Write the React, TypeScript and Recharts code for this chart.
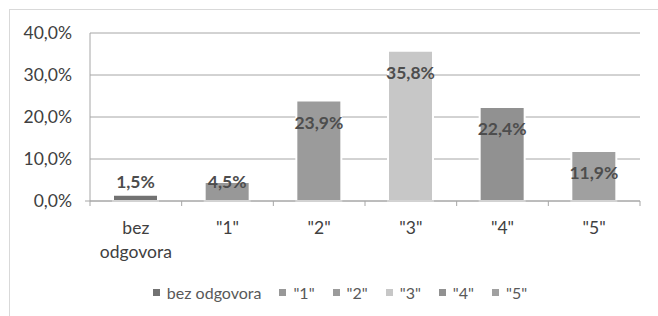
import React from 'react';
import { BarChart, Bar, XAxis, YAxis, CartesianGrid, Legend, Cell, LabelList } from 'recharts';

const categories = ['bez odgovora', '"1"', '"2"', '"3"', '"4"', '"5"'];
const percentages = [1.5, 4.5, 23.9, 35.8, 22.4, 11.9];
const barColors = ['#727272', '#989898', '#9b9b9b', '#c7c7c7', '#919191', '#a0a0a0'];
const yTicks = [0, 10, 20, 30, 40];

const data = categories.map((name, i) => ({ name, value: percentages[i] }));

const FONT = 'Lato, "Liberation Sans", sans-serif';
const fmt = (v: number) => v.toFixed(1).replace('.', ',') + '%';

const CHART_W = 658;
const CHART_H = 316;
const PLOT_LEFT = 90;
const PLOT_RIGHT = 640;
const band = (PLOT_RIGHT - PLOT_LEFT) / categories.length;

// x labels + tick marks between categories (excel style)
const XTick = (props: any) => {
  const { x, y, payload, index } = props;
  const words = String(payload.value).split(' ');
  const axisY = y - 8;
  return (
    <g>
      <line x1={x + band / 2} x2={x + band / 2} y1={axisY} y2={axisY + 5} stroke="#a6a6a6" />
      {index === 0 && <line x1={x - band / 2} x2={x - band / 2} y1={axisY} y2={axisY + 5} stroke="#a6a6a6" />}
      <text x={x} y={axisY + 33} textAnchor="middle" fill="#404040" fontSize={17.5} fontFamily={FONT}>
        {words.map((w, i) => (
          <tspan key={i} x={x} dy={i === 0 ? 0 : 24}>{w}</tspan>
        ))}
      </text>
    </g>
  );
};

const YTick = (props: any) => {
  const { y, payload } = props;
  return (
    <g>
      {payload.value === 0 && <line x1={PLOT_LEFT - 5} x2={PLOT_LEFT} y1={y} y2={y} stroke="#a6a6a6" />}
      <text x={PLOT_LEFT - 18} y={y + 6} textAnchor="end" fill="#404040" fontSize={17.5} fontFamily={FONT}>
        {fmt(payload.value)}
      </text>
    </g>
  );
};

const ValueLabel = (props: any) => {
  const { x, y, width, value } = props;
  const cy = Math.min(y + 22, 182);
  return (
    <text x={x + width / 2} y={cy + 6} textAnchor="middle" fill="#4d4d4d" fontSize={17.5} fontWeight="bold" fontFamily={FONT}>
      {fmt(value)}
    </text>
  );
};

const LegendContent = () => (
  <div style={{ display: 'flex', justifyContent: 'center', alignItems: 'center', height: 20, fontFamily: FONT, fontSize: 16, color: '#595959', paddingLeft: 40 }}>
    {categories.map((c, i) => (
      <span key={c} style={{ display: 'flex', alignItems: 'center', marginRight: i === categories.length - 1 ? 0 : 18 }}>
        <span style={{ width: 7, height: 7, background: barColors[i], marginRight: 7, display: 'inline-block' }} />
        {c}
      </span>
    ))}
  </div>
);

export default function App() {
  return (
    <div style={{ position: 'absolute', left: 0, top: 0, width: CHART_W, height: CHART_H, background: '#fff', overflow: 'hidden' }}>
      <div style={{ position: 'absolute', left: 9, top: 9, width: 660, height: 320, borderLeft: '1px solid #d9d9d9', borderTop: '1px solid #d9d9d9' }} />
      <BarChart
        width={CHART_W}
        height={CHART_H}
        data={data}
        margin={{ top: 33, right: CHART_W - PLOT_RIGHT, left: 0, bottom: 14 }}
        style={{ position: 'absolute', left: 0, top: 0 }}
      >
        <CartesianGrid vertical={false} stroke="#a6a6a6" />
        <XAxis dataKey="name" height={81} axisLine={{ stroke: '#a6a6a6' }} tickLine={false} tick={<XTick />} interval={0} />
        <YAxis
          width={PLOT_LEFT}
          domain={[0, 40]}
          ticks={yTicks}
          axisLine={{ stroke: '#a6a6a6' }}
          tickLine={false}
          tick={<YTick />}
        />
        <Legend verticalAlign="bottom" content={<LegendContent />} />
        <Bar dataKey="value" barSize={45} stroke="#fff" strokeWidth={2} isAnimationActive={false}>
          {data.map((d, i) => (
            <Cell key={d.name} fill={barColors[i]} />
          ))}
          <LabelList dataKey="value" content={<ValueLabel />} />
        </Bar>
      </BarChart>
    </div>
  );
}
